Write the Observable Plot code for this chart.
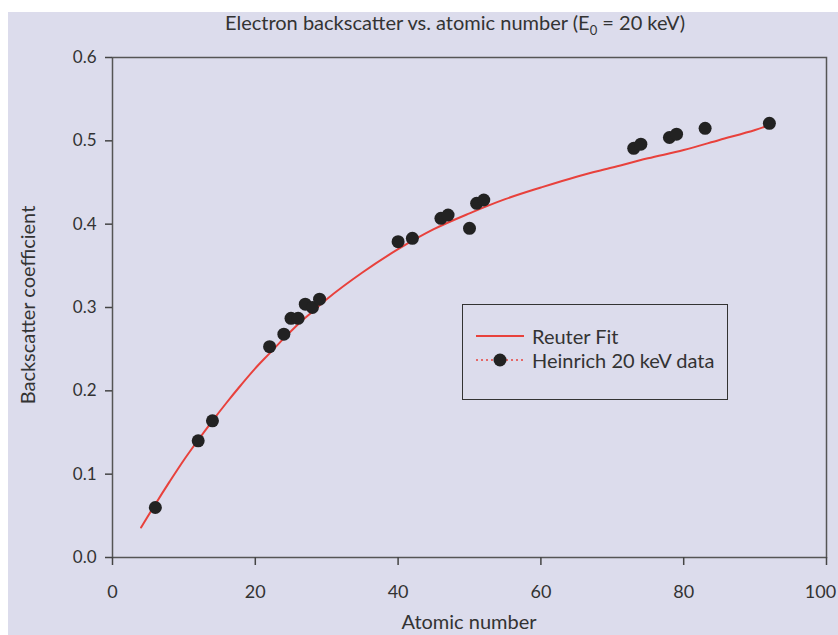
<!DOCTYPE html>
<html>
<head>
<meta charset="utf-8">
<script src="https://cdn.jsdelivr.net/npm/d3@7"></script>
<script src="https://cdn.jsdelivr.net/npm/@observablehq/plot@0.6"></script>
<style>
  html, body { margin: 0; padding: 0; background: #ffffff; }
  #wrap { position: relative; width: 838px; height: 635px; overflow: hidden;
          font-family: Lato, "Open Sans", sans-serif; color: #333; }
  #bg { position: absolute; left: 8px; top: 12px; right: 0; bottom: 0; background: #dcdcec; }
  #chart { position: absolute; left: 0; top: 0; }
  .txt { position: absolute; white-space: nowrap; font-size: 20px; color: #333; line-height: 24px; }
  #legend { position: absolute; left: 462px; top: 304px; width: 266px; height: 96px;
            border: 1.5px solid #333; box-sizing: border-box; }
  #legend .row { position: absolute; left: 11px; height: 24px; display: flex; align-items: center; font-size: 20px; color: #333; }
</style>
</head>
<body>
<div id="wrap">
  <div id="bg"></div>
  <div id="chart"></div>
  <div class="txt" id="title" style="left:0; width:910px; text-align:center; top:10px;">Electron backscatter vs. atomic number (E<sub style="font-size:13px; line-height:0;">0</sub> = 20 keV)</div>
  <div class="txt" id="xlabel" style="left:369px; width:200px; text-align:center; top:609px;">Atomic number</div>
  <div class="txt" id="ylabel" style="left:-83px; width:220px; text-align:center; top:293px; transform: rotate(-90deg);">Backscatter coefficient</div>
  <div id="legend">
    <div class="row" style="top:19px;">
      <svg width="52" height="20"><line x1="2" y1="10" x2="50" y2="10" stroke="#e8413c" stroke-width="2"/></svg>
      <span style="margin-left:6px;">Reuter Fit</span>
    </div>
    <div class="row" style="top:43px;">
      <svg width="52" height="20"><line x1="2" y1="10" x2="50" y2="10" stroke="#e8413c" stroke-width="1.5" stroke-dasharray="2,3"/><circle cx="26" cy="10" r="6.5" fill="#222"/></svg>
      <span style="margin-left:6px;">Heinrich 20 keV data</span>
    </div>
  </div>
</div>
<script>
// Heinrich 20 keV measured backscatter data (atomic number, coefficient)
const dataZ   = [6, 12, 14, 22, 24, 25, 26, 27, 28, 29, 40, 42, 46, 47, 50, 51, 52, 73, 74, 78, 79, 83, 92];
const dataEta = [0.060, 0.140, 0.164, 0.253, 0.268, 0.287, 0.287, 0.304, 0.300, 0.310, 0.379, 0.383,
                 0.407, 0.411, 0.395, 0.425, 0.429, 0.491, 0.496, 0.504, 0.508, 0.515, 0.521];

// Reuter fit curve
const fitZ   = [4, 6, 8, 10, 12, 14, 16, 18, 20, 22, 24, 26, 28, 30, 35, 40, 45, 50, 55, 60, 65, 70, 75, 80, 85, 90, 92];
const fitEta = [0.036, 0.064, 0.091, 0.117, 0.141, 0.164, 0.186, 0.207, 0.227, 0.245, 0.263, 0.280, 0.295, 0.310,
                0.342, 0.370, 0.394, 0.413, 0.430, 0.444, 0.457, 0.468, 0.479, 0.489, 0.501, 0.513, 0.519];

const xTicks = [0, 20, 40, 60, 80, 100];
const yTicks = [0.0, 0.1, 0.2, 0.3, 0.4, 0.5, 0.6];

const points = dataZ.map((z, i) => ({z, eta: dataEta[i]}));
const fit = fitZ.map((z, i) => ({z, eta: fitEta[i]}));

const font = 'Lato, "Open Sans", sans-serif';
const lastX = xTicks[xTicks.length - 1];

const plot = Plot.plot({
  width: 838,
  height: 635,
  marginLeft: 112,
  marginRight: 12,
  marginTop: 57,
  marginBottom: 78,
  style: { background: "transparent", fontFamily: font, fontSize: "17px", color: "#333", overflow: "visible" },
  x: { domain: [0, 100] },
  y: { domain: [0, 0.6] },
  marks: [
    Plot.frame({ stroke: "#555", strokeWidth: 1.5 }),
    Plot.axisX({ ticks: xTicks, tickSize: 8, tickPadding: 0, text: null, stroke: "#444", strokeWidth: 1.5, label: null }),
    Plot.axisX({ ticks: xTicks.slice(0, -1), tickSize: 8, tickPadding: 20, label: null, tickFormat: d => String(d), stroke: "none", fontSize: 18 }),
    Plot.axisX({ ticks: [lastX], tickSize: 8, tickPadding: 20, label: null, tickFormat: d => String(d), stroke: "none", fontSize: 18, dx: -6 }),
    Plot.axisY({ ticks: yTicks, tickSize: 7, tickPadding: 9, label: null, tickFormat: d => d.toFixed(1), stroke: "#444", strokeWidth: 1.5, fontSize: 17 }),
    Plot.line(fit, { x: "z", y: "eta", stroke: "#e8413c", strokeWidth: 2, curve: "catmull-rom" }),
    Plot.dot(points, { x: "z", y: "eta", r: 6.5, fill: "#222", stroke: "none" })
  ]
});
document.getElementById("chart").appendChild(plot);
</script>
</body>
</html>
